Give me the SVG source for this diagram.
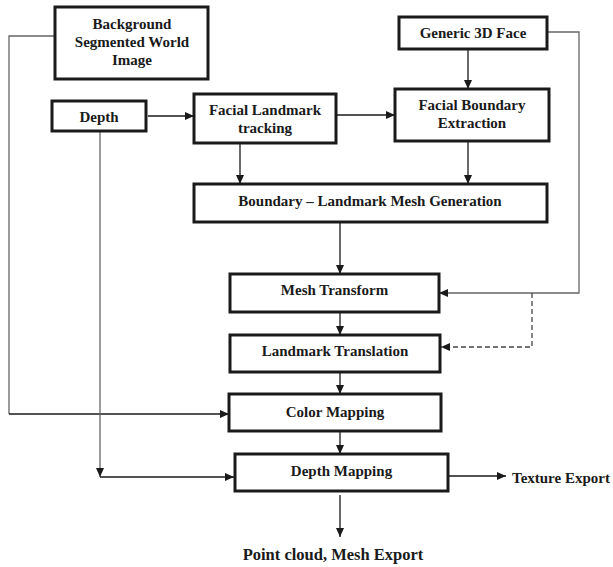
<svg xmlns="http://www.w3.org/2000/svg" width="613" height="567" viewBox="0 0 613 567">
<style>
.box{fill:#fff;stroke:#1a1a1a;stroke-width:3}
.t{font-family:"Liberation Serif","Times New Roman",serif;font-weight:bold;font-size:15px;fill:#1a1a1a;text-anchor:middle}
.c{fill:none;stroke:#1a1a1a;stroke-width:1.3}
.g{fill:none;stroke:#666;stroke-width:1.3}
.d{fill:none;stroke:#444;stroke-width:1.3;stroke-dasharray:5 3}
</style>
<defs>
<marker id="ah" markerUnits="userSpaceOnUse" markerWidth="10" markerHeight="10" viewBox="0 0 10 10" refX="9" refY="5" orient="auto">
<path d="M0,1 L9,5 L0,9 Z" fill="#1a1a1a"/>
</marker>
</defs>
<rect width="613" height="567" fill="#fff"/>
<g id="connectors">
<line class="c" x1="148" y1="116" x2="194" y2="116" marker-end="url(#ah)"/>
<line class="c" x1="337" y1="115" x2="395" y2="115" marker-end="url(#ah)"/>
<line class="c" x1="468" y1="49" x2="468" y2="89" marker-end="url(#ah)"/>
<line class="c" x1="240" y1="143" x2="240" y2="184" marker-end="url(#ah)"/>
<line class="c" x1="468" y1="141" x2="468" y2="184" marker-end="url(#ah)"/>
<line class="c" x1="340" y1="222" x2="340" y2="274" marker-end="url(#ah)"/>
<polyline class="g" points="547,32 579,32 579,293 439,293" marker-end="url(#ah)"/>
<polyline class="d" points="532,293 532,347 441,347" marker-end="url(#ah)"/>
<line class="c" x1="340" y1="312" x2="340" y2="335" marker-end="url(#ah)"/>
<line class="c" x1="340" y1="372" x2="340" y2="394" marker-end="url(#ah)"/>
<polyline class="g" points="55,36 9,36 9,414"/>
<line class="c" x1="9" y1="414" x2="229" y2="414" marker-end="url(#ah)"/>
<line class="g" x1="100" y1="131" x2="100" y2="477" marker-end="url(#ah)"/>
<line class="c" x1="100" y1="477" x2="234" y2="477" marker-end="url(#ah)"/>
<line class="c" x1="340" y1="431" x2="340" y2="454" marker-end="url(#ah)"/>
<line class="c" x1="448" y1="476" x2="506" y2="476" marker-end="url(#ah)"/>
<line class="c" x1="340" y1="495" x2="340" y2="537" marker-end="url(#ah)"/>
</g>
<g id="bg">
<rect class="box" x="55" y="7" width="153" height="72"/>
<text class="t" x="132" y="29">Background</text>
<text class="t" x="132" y="47">Segmented World</text>
<text class="t" x="132" y="65">Image</text>
</g>
<g id="depth">
<rect class="box" x="52" y="101" width="94" height="30"/>
<text class="t" x="99" y="122">Depth</text>
</g>
<g id="flt">
<rect class="box" x="194" y="94" width="142" height="49"/>
<text class="t" x="265" y="115">Facial Landmark</text>
<text class="t" x="265" y="133">tracking</text>
</g>
<g id="generic">
<rect class="box" x="399" y="17" width="148" height="32"/>
<text class="t" x="473" y="38">Generic 3D Face</text>
</g>
<g id="fbe">
<rect class="box" x="395" y="89" width="154" height="52"/>
<text class="t" x="472" y="110">Facial Boundary</text>
<text class="t" x="472" y="128">Extraction</text>
</g>
<g id="blmg">
<rect class="box" x="194" y="184" width="353" height="38"/>
<text class="t" x="370" y="206">Boundary – Landmark Mesh Generation</text>
</g>
<g id="mt">
<rect class="box" x="230" y="274" width="209" height="38"/>
<text class="t" x="334.5" y="295">Mesh Transform</text>
</g>
<g id="lt">
<rect class="box" x="230" y="335" width="210" height="37"/>
<text class="t" x="335" y="356">Landmark Translation</text>
</g>
<g id="cm">
<rect class="box" x="229" y="394" width="212" height="37"/>
<text class="t" x="335" y="417">Color Mapping</text>
</g>
<g id="dm">
<rect class="box" x="235" y="454" width="213" height="37"/>
<text class="t" x="341.5" y="476">Depth Mapping</text>
</g>
<g id="tex">
<text class="t" x="512" y="483" style="text-anchor:start">Texture Export</text>
</g>
<g id="pc">
<text class="t" x="333" y="560" style="font-size:16.5px">Point cloud, Mesh Export</text>
</g>
</svg>
